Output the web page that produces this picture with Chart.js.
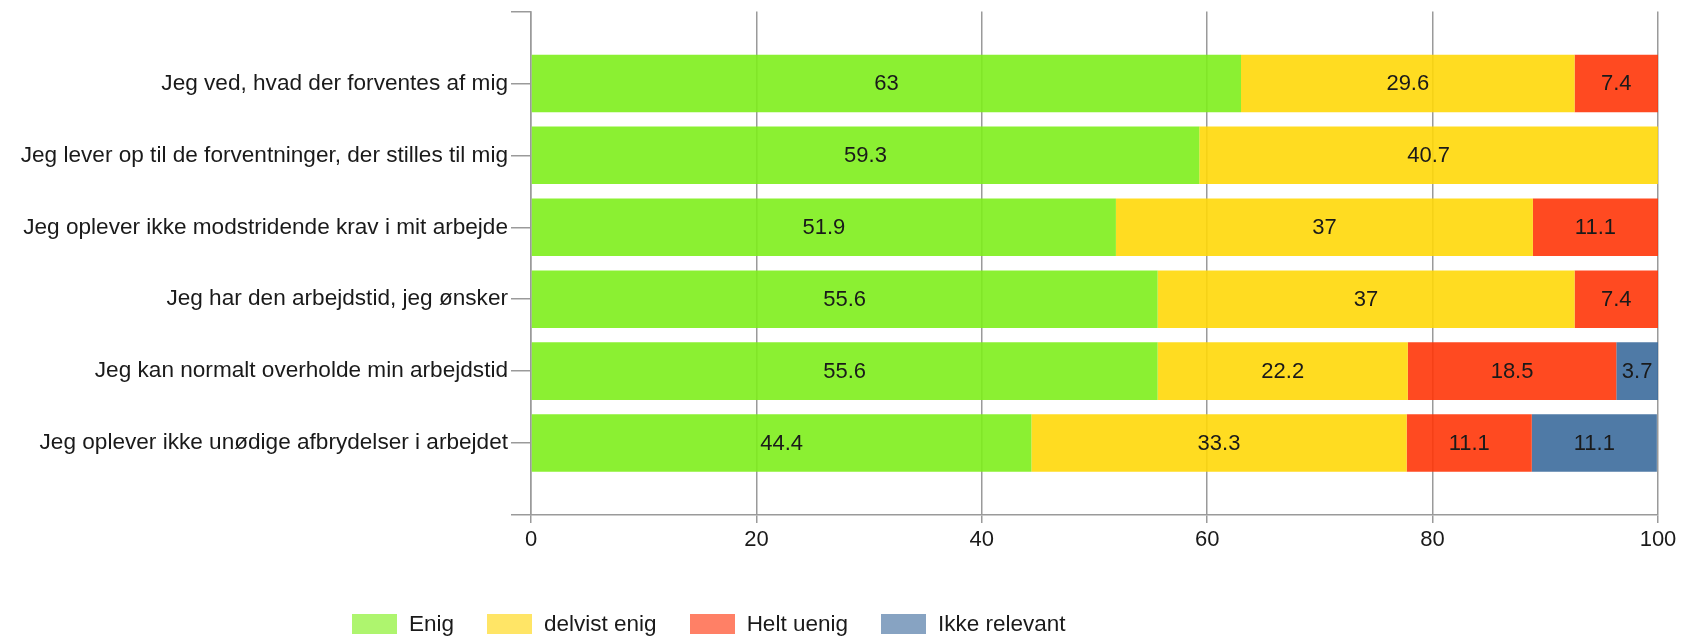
<!DOCTYPE html>
<html>
<head>
<meta charset="utf-8">
<script src="https://cdn.jsdelivr.net/npm/chart.js@4"></script>
<style>
  body { margin: 0; background: #fff; }
  #wrap { position: relative; width: 1699px; height: 636px; }
  #legend {
    position: absolute; left: 352px; top: 611px;
    display: flex; align-items: center;
    font: 22.5px "Liberation Sans", Arial, sans-serif; color: #1a1a1a;
  }
  #legend .item { display: flex; align-items: center; margin-right: 33px; }
  #legend .box { width: 45px; height: 20px; margin-right: 12px; }
</style>
</head>
<body>
<div id="wrap">
  <canvas id="chart" width="1699" height="636"></canvas>
  <div id="legend"></div>
</div>
<script>
const categories = [
  'Jeg ved, hvad der forventes af mig',
  'Jeg lever op til de forventninger, der stilles til mig',
  'Jeg oplever ikke modstridende krav i mit arbejde',
  'Jeg har den arbejdstid, jeg ønsker',
  'Jeg kan normalt overholde min arbejdstid',
  'Jeg oplever ikke unødige afbrydelser i arbejdet'
];
const seriesNames = ['Enig', 'delvist enig', 'Helt uenig', 'Ikke relevant'];
const enig = [63, 59.3, 51.9, 55.6, 55.6, 44.4];
const delvistEnig = [29.6, 40.7, 37, 37, 22.2, 33.3];
const heltUenig = [7.4, null, 11.1, 7.4, 18.5, 11.1];
const ikkeRelevant = [null, null, null, null, 3.7, 11.1];
const xTicks = [0, 20, 40, 60, 80, 100];

// farver: søjler og (lysere) forklaring
const barColors = ['rgba(126,238,28,0.9)', 'rgba(255,216,9,0.9)', 'rgba(255,54,9,0.9)', 'rgba(60,107,156,0.9)'];
const legendColors = ['#aef56e', '#ffe566', '#ff8066', '#87a3c2'];

Chart.defaults.font.family = '"Liberation Sans", Arial, sans-serif';
Chart.defaults.font.size = 22;
Chart.defaults.color = '#1a1a1a';

// tom plads over og under kategorierne
const pad = arr => [null, ...arr, null];

const valueLabels = {
  id: 'valueLabels',
  afterDatasetsDraw(chart) {
    const ctx = chart.ctx;
    ctx.save();
    ctx.font = '22px "Liberation Sans", Arial, sans-serif';
    ctx.fillStyle = '#1a1a1a';
    ctx.textAlign = 'center';
    ctx.textBaseline = 'middle';
    chart.data.datasets.forEach((ds, i) => {
      chart.getDatasetMeta(i).data.forEach((bar, j) => {
        const v = ds.data[j];
        if (v == null) return;
        ctx.fillText(String(v), (bar.x + bar.base) / 2, bar.y + 1);
      });
    });
    ctx.restore();
  }
};

const seriesData = [enig, delvistEnig, heltUenig, ikkeRelevant];

new Chart(document.getElementById('chart').getContext('2d'), {
  type: 'bar',
  data: {
    labels: ['', ...categories, ''],
    datasets: seriesNames.map((name, i) => ({
      label: name,
      data: pad(seriesData[i]),
      backgroundColor: barColors[i],
      borderWidth: 0,
      barPercentage: 1,
      categoryPercentage: 0.8
    }))
  },
  options: {
    indexAxis: 'y',
    responsive: false,
    animation: false,
    layout: { padding: { left: 0, right: 41, top: 0, bottom: 0 } },
    plugins: {
      legend: { display: false },
      tooltip: { enabled: false }
    },
    scales: {
      x: {
        stacked: true,
        min: 0,
        max: 100,
        afterBuildTicks: scale => { scale.ticks = xTicks.map(v => ({ value: v })); },
        afterFit: scale => { scale.height = 121; },
        grid: { color: '#9a9a9a', lineWidth: 1.5, tickLength: 8 },
        border: { color: '#9a9a9a', width: 1.5 },
        ticks: { padding: 4, font: { size: 22 } }
      },
      y: {
        stacked: true,
        offset: false,
        afterFit: scale => { scale.width = 531; },
        grid: { display: true, drawOnChartArea: false, color: '#9a9a9a', lineWidth: 1.5, tickLength: 20, offset: false },
        border: { color: '#9a9a9a', width: 1.5 },
        ticks: { padding: 3, autoSkip: false, font: { size: 22.6, lineHeight: 0.75 } }
      }
    }
  },
  plugins: [valueLabels]
});

// forklaring
const legendEl = document.getElementById('legend');
seriesNames.forEach((name, i) => {
  const item = document.createElement('div');
  item.className = 'item';
  const box = document.createElement('span');
  box.className = 'box';
  box.style.background = legendColors[i];
  const txt = document.createElement('span');
  txt.textContent = name;
  item.appendChild(box);
  item.appendChild(txt);
  legendEl.appendChild(item);
});
</script>
</body>
</html>
